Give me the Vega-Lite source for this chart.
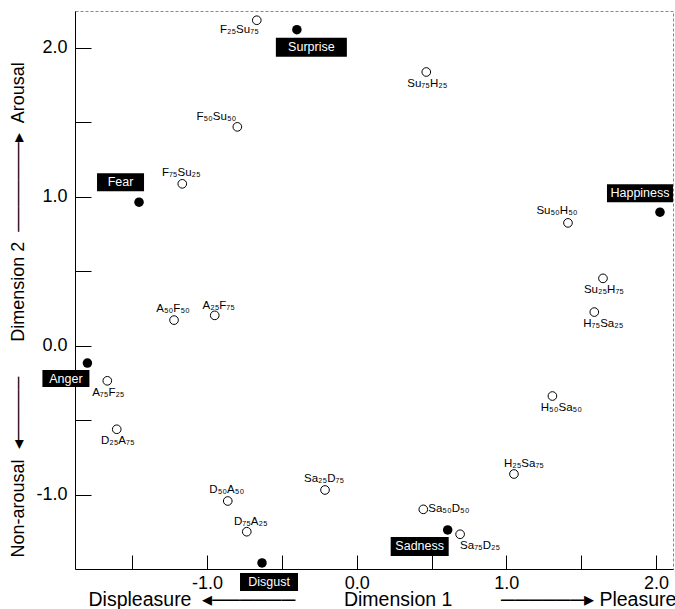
{
  "$schema": "https://vega.github.io/schema/vega-lite/v6.json",
  "width": 598,
  "height": 558,
  "autosize": {"type": "none"},
  "padding": {"left": 75, "top": 11, "right": 2, "bottom": 40},
  "background": "white",
  "config": {
    "view": {"stroke": "#888", "strokeWidth": 1, "strokeDash": [3, 2]},
    "font": "Liberation Sans"
  },
  "data": {
    "values": [
      {"label": "Surprise", "kind": "emotion", "x": -0.40, "y": 2.12},
      {"label": "Fear", "kind": "emotion", "x": -1.455, "y": 0.963},
      {"label": "Happiness", "kind": "emotion", "x": 2.027, "y": 0.896},
      {"label": "Anger", "kind": "emotion", "x": -1.80, "y": -0.116},
      {"label": "Disgust", "kind": "emotion", "x": -0.633, "y": -1.456},
      {"label": "Sadness", "kind": "emotion", "x": 0.608, "y": -1.235},
      {"label": "F₂₅Su₇₅", "kind": "blend", "x": -0.668, "y": 2.183},
      {"label": "Su₇₅H₂₅", "kind": "blend", "x": 0.465, "y": 1.836},
      {"label": "F₅₀Su₅₀", "kind": "blend", "x": -0.798, "y": 1.468},
      {"label": "F₇₅Su₂₅", "kind": "blend", "x": -1.166, "y": 1.086},
      {"label": "Su₅₀H₅₀", "kind": "blend", "x": 1.412, "y": 0.824},
      {"label": "Su₂₅H₇₅", "kind": "blend", "x": 1.646, "y": 0.452},
      {"label": "H₇₅Sa₂₅", "kind": "blend", "x": 1.588, "y": 0.226},
      {"label": "A₅₀F₅₀", "kind": "blend", "x": -1.221, "y": 0.172},
      {"label": "A₂₅F₇₅", "kind": "blend", "x": -0.949, "y": 0.204},
      {"label": "A₇₅F₂₅", "kind": "blend", "x": -1.667, "y": -0.235},
      {"label": "D₂₅A₇₅", "kind": "blend", "x": -1.604, "y": -0.560},
      {"label": "H₅₀Sa₅₀", "kind": "blend", "x": 1.308, "y": -0.337},
      {"label": "H₂₅Sa₇₅", "kind": "blend", "x": 1.051, "y": -0.860},
      {"label": "Sa₂₅D₇₅", "kind": "blend", "x": -0.212, "y": -0.967},
      {"label": "D₅₀A₅₀", "kind": "blend", "x": -0.862, "y": -1.041},
      {"label": "D₇₅A₂₅", "kind": "blend", "x": -0.735, "y": -1.247},
      {"label": "Sa₅₀D₅₀", "kind": "blend", "x": 0.445, "y": -1.097},
      {"label": "Sa₇₅D₂₅", "kind": "blend", "x": 0.691, "y": -1.264}
    ]
  },
  "encoding": {
    "x": {
      "field": "x", "type": "quantitative",
      "scale": {"domain": [-1.883, 2.114], "nice": false, "zero": false},
      "axis": {
        "values": [-1.5, -1, -0.5, 0, 0.5, 1, 1.5, 2],
        "grid": false,
        "tickSize": -14, "tickColor": "black", "tickWidth": 1,
        "domainColor": "black", "domainWidth": 1,
        "labelExpr": "datum.value % 1 == 0 ? replace(format(datum.value, '.1f'), '−', '-') : ''",
        "labelFont": "Liberation Sans", "labelFontSize": 18, "labelColor": "black",
        "labelPadding": 19, "labelOverlap": false, "labelFlush": false, "labelBound": false,
        "title": "Displeasure\u00a0\u00a0\u25c2\u2500\u2500\u2500\u2500\u2500\u2500\u00a0\u00a0\u00a0\u00a0\u00a0\u00a0\u00a0\u00a0\u00a0Dimension 1\u00a0\u00a0\u00a0\u00a0\u00a0\u00a0\u00a0\u00a0\u00a0\u2500\u2500\u2500\u2500\u2500\u2500\u25b8\u00a0Pleasure",
        "titleFont": "Liberation Sans", "titleFontSize": 19.5, "titleFontWeight": "normal", "titleColor": "black",
        "titleAnchor": "start", "titleAlign": "left", "titleBaseline": "middle",
        "titleX": 13, "titleY": 30
      }
    },
    "y": {
      "field": "y", "type": "quantitative",
      "scale": {"domain": [-1.497, 2.245], "nice": false, "zero": false},
      "axis": {
        "values": [-1, -0.5, 0, 0.5, 1, 1.5, 2],
        "grid": false,
        "tickSize": -16, "tickColor": "black", "tickWidth": 1,
        "domainColor": "black", "domainWidth": 1,
        "labelExpr": "datum.value % 1 == 0 ? replace(format(datum.value, '.1f'), '−', '-') : ''",
        "labelFont": "Liberation Sans", "labelFontSize": 18, "labelColor": "black",
        "labelPadding": 24, "labelOverlap": false, "labelFlush": false, "labelBound": false,
        "title": "Non-arousal\u00a0\u00a0\u25c2\u2500\u2500\u2500\u2500\u2500\u00a0\u00a0\u00a0\u00a0\u00a0\u00a0\u00a0Dimension 2\u00a0\u00a0\u2500\u2500\u2500\u2500\u2500\u2500\u2500\u25b8\u00a0\u00a0Arousal",
        "titleFont": "Liberation Sans", "titleFontSize": 18, "titleFontWeight": "normal", "titleColor": "black",
        "titleAngle": -90, "titleAlign": "left", "titleBaseline": "middle",
        "titleX": -57, "titleY": 546
      }
    }
  },
  "layer": [
    {
      "transform": [{"filter": "datum.kind == 'blend'"}],
      "mark": {"type": "circle", "fill": "white", "stroke": "black", "strokeWidth": 1, "size": 75, "opacity": 1}
    },
    {
      "transform": [{"filter": "datum.kind == 'emotion'"}],
      "mark": {"type": "circle", "color": "black", "size": 90, "opacity": 1}
    },
    {
      "transform": [{"filter": "datum.kind == 'emotion'"}],
      "mark": {"type": "point", "filled": true, "size": 4, "color": "black", "opacity": 1, "strokeWidth": 0, "clip": false},
      "encoding": {
        "shape": {
          "field": "label", "type": "nominal", "legend": null,
          "scale": {
            "domain": ["Surprise", "Fear", "Happiness", "Anger", "Disgust", "Sadness"],
            "range": ["M-21,8H50V27H-21Z", "M-42,-29H5V-11H-42Z", "M-53,-28H13V-10H-53Z", "M-45,7H2V24H-45Z", "M-22,10H36V28H-22Z", "M-57,7H1V26H-57Z"]
          }
        }
      }
    },
    {"transform": [{"filter": "datum.label == 'Surprise'"}], "mark": {"type": "text", "fill": "white", "fontSize": 12.5, "align": "center", "baseline": "middle", "dx": 14.5, "dy": 17.5}, "encoding": {"text": {"field": "label"}}},
    {"transform": [{"filter": "datum.label == 'Fear'"}], "mark": {"type": "text", "fill": "white", "fontSize": 12.5, "align": "center", "baseline": "middle", "dx": -18.5, "dy": -20}, "encoding": {"text": {"field": "label"}}},
    {"transform": [{"filter": "datum.label == 'Happiness'"}], "mark": {"type": "text", "fill": "white", "fontSize": 12.5, "align": "center", "baseline": "middle", "dx": -20, "dy": -19}, "encoding": {"text": {"field": "label"}}},
    {"transform": [{"filter": "datum.label == 'Anger'"}], "mark": {"type": "text", "fill": "white", "fontSize": 12.5, "align": "center", "baseline": "middle", "dx": -21.5, "dy": 15.5}, "encoding": {"text": {"field": "label"}}},
    {"transform": [{"filter": "datum.label == 'Disgust'"}], "mark": {"type": "text", "fill": "white", "fontSize": 12.5, "align": "center", "baseline": "middle", "dx": 7, "dy": 19}, "encoding": {"text": {"field": "label"}}},
    {"transform": [{"filter": "datum.label == 'Sadness'"}], "mark": {"type": "text", "fill": "white", "fontSize": 12.5, "align": "center", "baseline": "middle", "dx": -28, "dy": 16.5}, "encoding": {"text": {"field": "label"}}},
    {"transform": [{"filter": {"field": "label", "oneOf": ["F₇₅Su₂₅", "Sa₂₅D₇₅", "D₅₀A₅₀", "A₅₀F₅₀"]}}], "mark": {"type": "text", "fontSize": 11.5, "align": "center", "baseline": "middle", "dx": -1, "dy": -11}, "encoding": {"text": {"field": "label"}}},
    {"transform": [{"filter": {"field": "label", "oneOf": ["A₂₅F₇₅", "D₇₅A₂₅"]}}], "mark": {"type": "text", "fontSize": 11.5, "align": "center", "baseline": "middle", "dx": 4, "dy": -9.5}, "encoding": {"text": {"field": "label"}}},
    {"transform": [{"filter": {"field": "label", "oneOf": ["Su₇₅H₂₅", "Su₂₅H₇₅", "A₇₅F₂₅", "D₂₅A₇₅"]}}], "mark": {"type": "text", "fontSize": 11.5, "align": "center", "baseline": "middle", "dx": 1, "dy": 12}, "encoding": {"text": {"field": "label"}}},
    {"transform": [{"filter": {"field": "label", "oneOf": ["H₇₅Sa₂₅", "H₅₀Sa₅₀"]}}], "mark": {"type": "text", "fontSize": 11.5, "align": "center", "baseline": "middle", "dx": 9, "dy": 12}, "encoding": {"text": {"field": "label"}}},
    {"transform": [{"filter": "datum.label == 'Su₅₀H₅₀'"}], "mark": {"type": "text", "fontSize": 11.5, "align": "center", "baseline": "middle", "dx": -11, "dy": -12}, "encoding": {"text": {"field": "label"}}},
    {"transform": [{"filter": "datum.label == 'H₂₅Sa₇₅'"}], "mark": {"type": "text", "fontSize": 11.5, "align": "center", "baseline": "middle", "dx": 10, "dy": -10.5}, "encoding": {"text": {"field": "label"}}},
    {"transform": [{"filter": "datum.label == 'F₂₅Su₇₅'"}], "mark": {"type": "text", "fontSize": 11.5, "align": "right", "baseline": "middle", "dx": 2, "dy": 10}, "encoding": {"text": {"field": "label"}}},
    {"transform": [{"filter": "datum.label == 'F₅₀Su₅₀'"}], "mark": {"type": "text", "fontSize": 11.5, "align": "right", "baseline": "middle", "dx": -1, "dy": -10}, "encoding": {"text": {"field": "label"}}},
    {"transform": [{"filter": "datum.label == 'Sa₅₀D₅₀'"}], "mark": {"type": "text", "fontSize": 11.5, "align": "left", "baseline": "middle", "dx": 5, "dy": 0}, "encoding": {"text": {"field": "label"}}},
    {"transform": [{"filter": "datum.label == 'Sa₇₅D₂₅'"}], "mark": {"type": "text", "fontSize": 11.5, "align": "left", "baseline": "middle", "dx": 0, "dy": 12}, "encoding": {"text": {"field": "label"}}}
  ]
}
